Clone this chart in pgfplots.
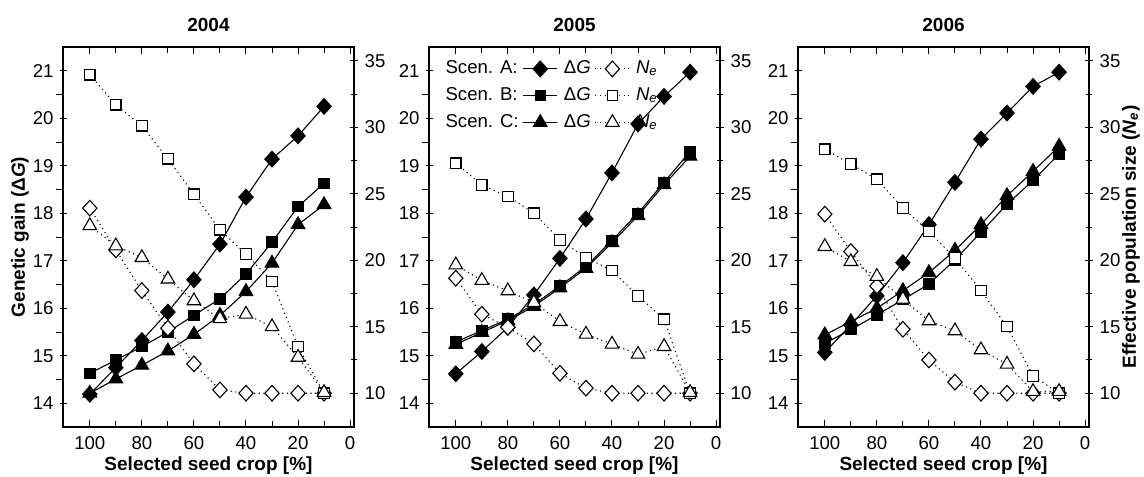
\documentclass[border=0pt]{standalone}
\usepackage{fontspec}
\setmainfont{Liberation Sans}
\usepackage{pgfplots}
\pgfplotsset{compat=1.18}

\newcommand\lblfont{\fontsize{9.5}{11}\selectfont\bfseries}
\pgfplotsset{
  base/.style={
    scale only axis, width=145.5pt, height=190pt,
    x dir=reverse, xmin=-1.5, xmax=110.3,
    /pgf/number format/assume math mode=true,
    tick label style={font=\fontsize{9.3}{10}\selectfont},
    major tick length=3.6pt, minor tick length=3.2pt,
    every tick/.style={black, line width=0.5pt},
    axis line style={line width=0.6pt},
  },
  leftax/.style={base,
    ymin=13.5, ymax=21.5, ytick={14,...,21}, minor y tick num=1,
    xtick={0,20,...,100}, minor x tick num=1,
    xtick pos=both, xticklabel pos=lower, ytick pos=left,
    tick align=inside,
    y tick style={xshift=-1.7pt}, minor y tick style={xshift=-1.6pt},
    yticklabel style={xshift=-1.2pt},
    xticklabel style={yshift=-1pt},
    every axis title shift=0pt,
    title style={at={(0.5,1)}, anchor=base, inner sep=0pt, yshift=7.8pt, font=\lblfont},
    xlabel={Selected seed crop [\%]},
    every axis x label/.style={at={(axis description cs:0.5,0)}, anchor=base, inner sep=0pt, yshift=-21.8pt, font=\lblfont},
  },
  rightax/.style={base,
    ymin=7.46, ymax=36.04, ytick={10,15,...,35}, minor y tick num=1,
    axis y line*=right, axis x line=none, tick align=center,
  },
  dG/.style={black, solid, line width=0.55pt, mark options={solid, fill=black}},
  Ne/.style={black, line width=0.55pt, dash pattern=on 0.55pt off 1.8pt, mark options={solid, fill=white}},
  mA/.style={mark=diamond*, mark size=3.9pt, every mark/.append style={xscale=1.22}},
  mB/.style={mark=square*, mark size=2.6pt},
  mC/.style={mark=triangle*, mark size=3.9pt},
}

\begin{document}
\begin{tikzpicture}
\path[use as bounding box] (-31.5pt,-24.5pt) rectangle (540.5pt,213.5pt);

% ---------------- 2004 ----------------
\begin{axis}[leftax, at={(0pt,0pt)}, title={2004},
  ylabel={Genetic gain (Δ\textit{G})},
  every axis y label/.style={at={(axis description cs:-0.148,0.5)}, rotate=90, anchor=center, font=\lblfont}]
\addplot[dG, mA] coordinates {(100,14.19)(90,14.75)(80,15.32)(70,15.92)(60,16.60)(50,17.35)(40,18.34)(30,19.14)(20,19.63)(10,20.25)};
\addplot[dG, mB] coordinates {(100,14.63)(90,14.91)(80,15.19)(70,15.50)(60,15.85)(50,16.20)(40,16.72)(30,17.39)(20,18.14)(10,18.63)};
\addplot[dG, mC] coordinates {(100,14.21)(90,14.51)(80,14.80)(70,15.10)(60,15.45)(50,15.85)(40,16.35)(30,16.95)(20,17.76)(10,18.18)};
\end{axis}
\begin{axis}[rightax, at={(0pt,0pt)}]
\addplot[Ne, mA] coordinates {(100,23.92)(90,20.78)(80,17.72)(70,14.89)(60,12.21)(50,10.25)(40,10)(30,10)(20,10)(10,10)};
\addplot[Ne, mB] coordinates {(100,33.95)(90,31.69)(80,30.11)(70,27.63)(60,24.97)(50,22.29)(40,20.46)(30,18.40)(20,13.51)(10,10)};
\addplot[Ne, mC] coordinates {(100,22.6)(90,21.08)(80,20.2)(70,18.58)(60,16.95)(50,15.6)(40,15.94)(30,15.0)(20,12.7)(10,10.05)};
\end{axis}

% ---------------- 2005 ----------------
\begin{axis}[leftax, at={(183pt,0pt)}, title={2005},
  legend columns=3,
  legend style={draw=none, fill=none, inner sep=0pt, font=\fontsize{9.3}{10}\selectfont,
    at={(axis description cs:0.035,0.975)}, anchor=north west,
    /tikz/every even column/.append style={column sep=0pt},
    /tikz/every odd column/.append style={column sep=1pt},
    row sep=1.4pt},
  legend cell align=left]
\addlegendimage{empty legend}\addlegendentry{Scen. A:}
\addlegendimage{dG, mA}\addlegendentry{Δ\textit{G}}
\addlegendimage{Ne, mA}\addlegendentry{\textit{N}\textsubscript{\textit{e}}}
\addlegendimage{empty legend}\addlegendentry{Scen. B:}
\addlegendimage{dG, mB}\addlegendentry{Δ\textit{G}}
\addlegendimage{Ne, mB}\addlegendentry{\textit{N}\textsubscript{\textit{e}}}
\addlegendimage{empty legend}\addlegendentry{Scen. C:}
\addlegendimage{dG, mC}\addlegendentry{Δ\textit{G}}
\addlegendimage{Ne, mC}\addlegendentry{\textit{N}\textsubscript{\textit{e}}}
\addplot[dG, mA, forget plot] coordinates {(100,14.62)(90,15.09)(80,15.60)(70,16.28)(60,17.05)(50,17.88)(40,18.85)(30,19.88)(20,20.46)(10,20.97)};
\addplot[dG, mB, forget plot] coordinates {(100,15.29)(90,15.53)(80,15.77)(70,16.08)(60,16.47)(50,16.88)(40,17.43)(30,18.00)(20,18.65)(10,19.30)};
\addplot[dG, mC, forget plot] coordinates {(100,15.24)(90,15.49)(80,15.74)(70,16.04)(60,16.43)(50,16.84)(40,17.38)(30,17.95)(20,18.60)(10,19.20)};
\end{axis}
\begin{axis}[rightax, at={(183pt,0pt)}]
\addplot[Ne, mA] coordinates {(100,18.65)(90,15.94)(80,14.96)(70,13.71)(60,11.5)(50,10.38)(40,10)(30,10)(20,10)(10,10)};
\addplot[Ne, mB] coordinates {(100,27.3)(90,25.67)(80,24.8)(70,23.54)(60,21.53)(50,20.2)(40,19.23)(30,17.32)(20,15.57)(10,10)};
\addplot[Ne, mC] coordinates {(100,19.65)(90,18.48)(80,17.7)(70,16.82)(60,15.39)(50,14.44)(40,13.69)(30,12.93)(20,13.51)(10,10.05)};
\end{axis}

% ---------------- 2006 ----------------
\begin{axis}[leftax, at={(367.5pt,0pt)}, title={2006}]
\addplot[dG, mA] coordinates {(100,15.07)(90,15.65)(80,16.26)(70,16.96)(60,17.76)(50,18.65)(40,19.56)(30,20.11)(20,20.67)(10,20.97)};
\addplot[dG, mB] coordinates {(100,15.26)(90,15.55)(80,15.86)(70,16.18)(60,16.51)(50,17.02)(40,17.60)(30,18.19)(20,18.69)(10,19.25)};
\addplot[dG, mC] coordinates {(100,15.44)(90,15.72)(80,16.00)(70,16.37)(60,16.75)(50,17.22)(40,17.76)(30,18.37)(20,18.88)(10,19.41)};
\end{axis}
\begin{axis}[rightax, at={(367.5pt,0pt)},
  ylabel={Effective population size (\textit{N}\textsubscript{\textit{e}})},
  every axis y label/.style={at={(axis description cs:1.1443,0.5)}, rotate=90, anchor=center, font=\lblfont}]
\addplot[Ne, mA] coordinates {(100,23.47)(90,20.66)(80,18.07)(70,14.81)(60,12.5)(50,10.83)(40,10)(30,10)(20,10)(10,10)};
\addplot[Ne, mB] coordinates {(100,28.35)(90,27.23)(80,26.1)(70,23.92)(60,22.16)(50,20.16)(40,17.72)(30,15.01)(20,11.3)(10,10)};
\addplot[Ne, mC] coordinates {(100,21.03)(90,19.9)(80,18.78)(70,17.07)(60,15.44)(50,14.69)(40,13.26)(30,12.18)(20,10.13)(10,10.13)};
\end{axis}
\end{tikzpicture}
\end{document}
